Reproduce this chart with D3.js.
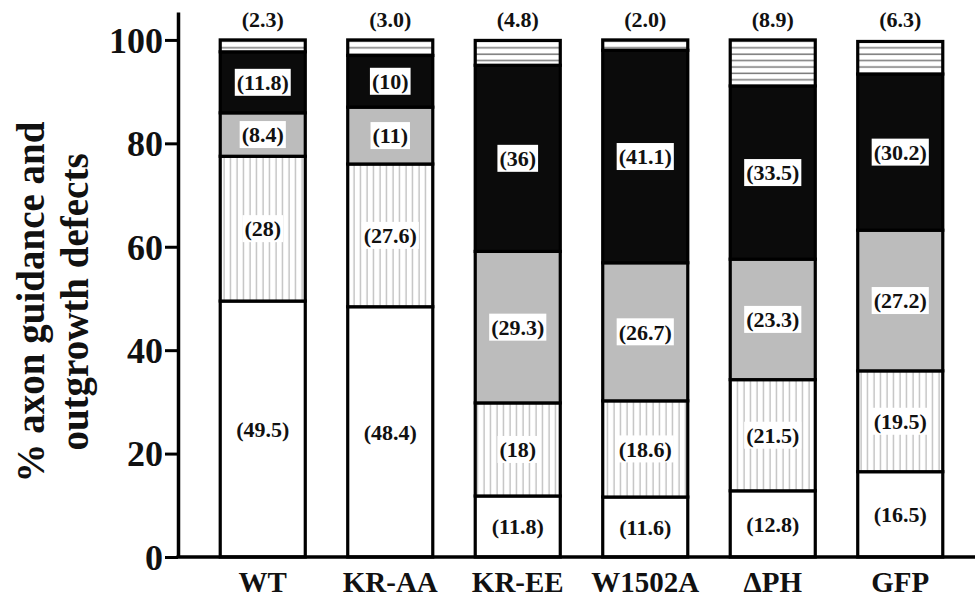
<!DOCTYPE html>
<html><head><meta charset="utf-8">
<script src="https://cdn.jsdelivr.net/npm/d3@7"></script>
<style>
body{margin:0;background:#fff}
svg{display:block}
text{font-family:"Liberation Serif","Times New Roman",serif;font-weight:bold;fill:#111}
</style>
</head><body>
<script>
const categories = ["WT","KR-AA","KR-EE","W1502A","\u0394PH","GFP"];
const whiteSeg   = [49.5, 48.4, 11.8, 11.6, 12.8, 16.5];
const vStripeSeg = [28, 27.6, 18, 18.6, 21.5, 19.5];
const graySeg    = [8.4, 11, 29.3, 26.7, 23.3, 27.2];
const blackSeg   = [11.8, 10, 36, 41.1, 33.5, 30.2];
const hStripeSeg = [2.3, 3.0, 4.8, 2.0, 8.9, 6.3];
const yTicks = [0, 20, 40, 60, 80, 100];
const yTitle = ["% axon guidance and", "outgrowth defects"];

const seriesKeys = ["white","vstripe","gray","black","hstripe"];
const seriesArrays = [whiteSeg, vStripeSeg, graySeg, blackSeg, hStripeSeg];
const fills = {white:"#ffffff", vstripe:"url(#vstripes)", gray:"#bcbcbc", black:"#0b0b0b", hstripe:"url(#hstripes)"};

const table = categories.map((c,i)=>{
  const o = {cat:c};
  seriesKeys.forEach((k,j)=>o[k]=seriesArrays[j][i]);
  return o;
});

const W = 975, H = 597;
const svg = d3.select("body").append("svg").attr("width",W).attr("height",H);

const defs = svg.append("defs");
const vp = defs.append("pattern").attr("id","vstripes").attr("patternUnits","userSpaceOnUse")
  .attr("width",6.5).attr("height",10);
vp.append("rect").attr("width",6.5).attr("height",10).attr("fill","#fff");
vp.append("line").attr("x1",3).attr("x2",3).attr("y1",0).attr("y2",10).attr("stroke","#a8a8a8").attr("stroke-width",1);
const hp = defs.append("pattern").attr("id","hstripes").attr("patternUnits","userSpaceOnUse")
  .attr("width",10).attr("height",6.4);
hp.append("rect").attr("width",10).attr("height",6.4).attr("fill","#fff");
hp.append("line").attr("x1",0).attr("x2",10).attr("y1",3).attr("y2",3).attr("stroke","#777").attr("stroke-width",1.5);

const x = d3.scaleBand().domain(categories).range([199,964]).paddingInner(0.333).paddingOuter(0.1665);
const y = d3.scaleLinear().domain([0,105.4]).range([557,12]);

const stack = d3.stack().keys(seriesKeys)(table);

// segments
const g = svg.append("g");
stack.forEach(layer=>{
  g.selectAll(null).data(layer).join("rect")
    .attr("x",d=>x(d.data.cat))
    .attr("width",x.bandwidth())
    .attr("y",d=>y(d[1]))
    .attr("height",d=>y(d[0])-y(d[1]))
    .attr("fill",fills[layer.key])
    .attr("stroke","#000")
    .attr("stroke-width",3.2);
});

// labels inside segments
const fmtTop = d3.format(".1f");
stack.forEach(layer=>{
  if(layer.key==="hstripe") return;
  const lg = svg.append("g");
  layer.forEach(d=>{
    const v = d[1]-d[0];
    const cx = x(d.data.cat)+x.bandwidth()/2;
    const cy = y((d[0]+d[1])/2);
    const txt = "("+String(+v.toFixed(1))+")";
    const t = lg.append("text").attr("x",cx).attr("y",cy).attr("dy","0.35em")
      .attr("text-anchor","middle").attr("font-size",22).text(txt);
    if(layer.key!=="white"){
      const bb = t.node().getBBox();
      lg.insert("rect","text").attr("x",bb.x-2).attr("y",cy-13.5).attr("width",bb.width+4).attr("height",27).attr("fill","#fff");
      t.raise();
    }
  });
});

// top labels
svg.append("g").selectAll("text").data(table).join("text")
  .attr("x",d=>x(d.cat)+x.bandwidth()/2)
  .attr("y",27)
  .attr("text-anchor","middle").attr("font-size",22)
  .text(d=>"("+fmtTop(d.hstripe)+")");

// y axis
const ya = svg.append("g").attr("transform","translate(178,0)")
  .call(d3.axisLeft(y).tickValues(yTicks).tickSize(13).tickSizeOuter(0).tickPadding(2));
ya.select(".domain").attr("stroke","#000").attr("stroke-width",3.5);
ya.selectAll(".tick line").attr("stroke","#000").attr("stroke-width",3);
ya.selectAll(".tick text").attr("font-size",36).attr("font-family",'"Liberation Serif",serif').attr("font-weight","bold").attr("fill","#111").attr("dy","0.34em");

// x axis
const xa = svg.append("g").attr("transform","translate(0,557)")
  .call(d3.axisBottom(x).tickSize(0).tickPadding(35));
xa.select(".domain").attr("d","M176.5,0H975").attr("stroke","#000").attr("stroke-width",3.5);
xa.selectAll(".tick text").attr("font-size",29).attr("font-family",'"Liberation Serif",serif').attr("font-weight","bold").attr("fill","#111").attr("dy","0");

// y title
const tt = svg.append("text").attr("transform","translate(0,302) rotate(-90)")
  .attr("text-anchor","middle").attr("font-size",39);
tt.selectAll("tspan").data(yTitle).join("tspan")
  .attr("x",0).attr("y",(d,i)=>44+i*44).text(d=>d);
</script>
</body></html>
